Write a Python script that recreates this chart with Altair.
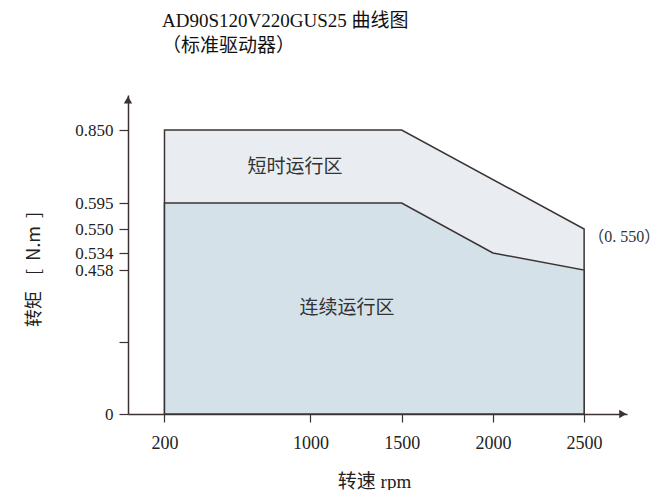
import altair as alt
import pandas as pd

# ---- data ----
speed_short = [200, 1500, 2500]
torque_short = [0.850, 0.850, 0.550]
speed_cont = [200, 1500, 2000, 2500]
torque_cont = [0.595, 0.595, 0.534, 0.458]
x_ticks = [200, 1000, 1500, 2000, 2500]
y_ticks = [0, 0.229, 0.458, 0.534, 0.550, 0.595, 0.850]
region_labels = ["短时运行区", "连续运行区"]
region_x = [915, 1200]
region_y = [0.72, 0.337]
end_note = "（0. 550）"

# piecewise (non-uniform) torque axis as drawn in the original figure
y_domain = [0, 0.458, 0.534, 0.550, 0.595, 0.850, 0.972]
y_range = [319, 175, 158, 134, 108, 35, 0]

W, H = 499, 319
ink = "#3b3333"
serif_cjk = "Liberation Serif, Noto Sans CJK SC"
NB = "\u00a0"

xs = alt.Scale(domain=[0, 2735], range=[0, W], nice=False, zero=False)
ys = alt.Scale(domain=y_domain, range=y_range, nice=False, zero=False, clamp=False)

df_short = pd.DataFrame({"speed": speed_short, "torque": torque_short})
df_cont = pd.DataFrame({"speed": speed_cont, "torque": torque_cont})
df_lab = pd.DataFrame({"speed": region_x, "torque": region_y, "label": region_labels})
df_note = pd.DataFrame({"speed": [2522], "torque": [0.545], "label": [end_note]})

label_expr = "datum.value == 0 ? '0' : (abs(datum.value - 0.229) < 0.001 ? '' : format(datum.value, '.3f'))"
y_title = "转矩" + NB * 4 + "[" + NB * 2 + "N.m" + NB * 2 + "]"

x_axis = alt.Axis(values=x_ticks, format="d", grid=False, domainColor=ink, domainWidth=1.5,
                  tickColor=ink, tickSize=8, tickWidth=1.2, labelFont=serif_cjk, labelFontSize=18,
                  labelColor="#222", labelPadding=12, title="转速 rpm", titleFont=serif_cjk,
                  titleFontSize=19, titleFontWeight="normal", titleColor="#222", titleY=58, titleX=246)
y_axis = alt.Axis(values=y_ticks, labelExpr=label_expr, grid=False, domainColor=ink, domainWidth=1.5,
                  tickColor=ink, tickSize=9, tickWidth=1.2, labelFont=serif_cjk, labelFontSize=17,
                  labelColor="#222", labelPadding=6, title=y_title, titleFont="Noto Sans CJK SC",
                  titleFontSize=18, titleFontWeight="normal", titleColor="#222", titleX=-85, titleY=174,
                  titleAngle=270, labelOverlap=False)

short_area = alt.Chart(df_short).mark_area(fill="#e9edf1", stroke=ink, strokeWidth=1.5).encode(
    x=alt.X("speed:Q", scale=xs, axis=x_axis),
    y=alt.Y("torque:Q", scale=ys, axis=y_axis),
    y2=alt.datum(0),
)
cont_area = alt.Chart(df_cont).mark_area(fill="#d4e1e9", stroke=ink, strokeWidth=1.5).encode(
    x=alt.X("speed:Q", scale=xs),
    y=alt.Y("torque:Q", scale=ys),
    y2=alt.datum(0),
)
labels = alt.Chart(df_lab).mark_text(font="Noto Sans CJK SC", fontSize=19, color="#333").encode(
    x=alt.X("speed:Q", scale=xs), y=alt.Y("torque:Q", scale=ys), text="label:N")
note = alt.Chart(df_note).mark_text(font=serif_cjk, fontSize=16, color="#333", align="left").encode(
    x=alt.X("speed:Q", scale=xs), y=alt.Y("torque:Q", scale=ys), text="label:N")

arrow_x = alt.Chart(pd.DataFrame({"speed": [2712], "torque": [0]})).mark_point(
    shape="triangle-right", filled=True, color=ink, size=70, opacity=1).encode(
    x=alt.X("speed:Q", scale=xs), y=alt.Y("torque:Q", scale=ys))
arrow_y = alt.Chart(pd.DataFrame({"speed": [0], "torque": [0.955]})).mark_point(
    shape="triangle-up", filled=True, color=ink, size=70, opacity=1).encode(
    x=alt.X("speed:Q", scale=xs), y=alt.Y("torque:Q", scale=ys))

chart = alt.layer(short_area, cont_area, labels, note, arrow_x, arrow_y).properties(
    width=W, height=H,
    background="white",
    title=alt.TitleParams(text=["AD90S120V220GUS25 曲线图", "（标准驱动器）"], anchor="start", dx=34,
                          frame="group", font=serif_cjk, fontSize=19, fontWeight="normal", color="#111",
                          lineHeight=25, offset=39),
    autosize=alt.AutoSizeParams(type="none"),
    padding={"left": 120, "top": 87, "right": 36, "bottom": 76},
).configure_view(strokeWidth=0, stroke="transparent")

chart.save("out.html", embed_options={"renderer": "svg", "actions": False})
